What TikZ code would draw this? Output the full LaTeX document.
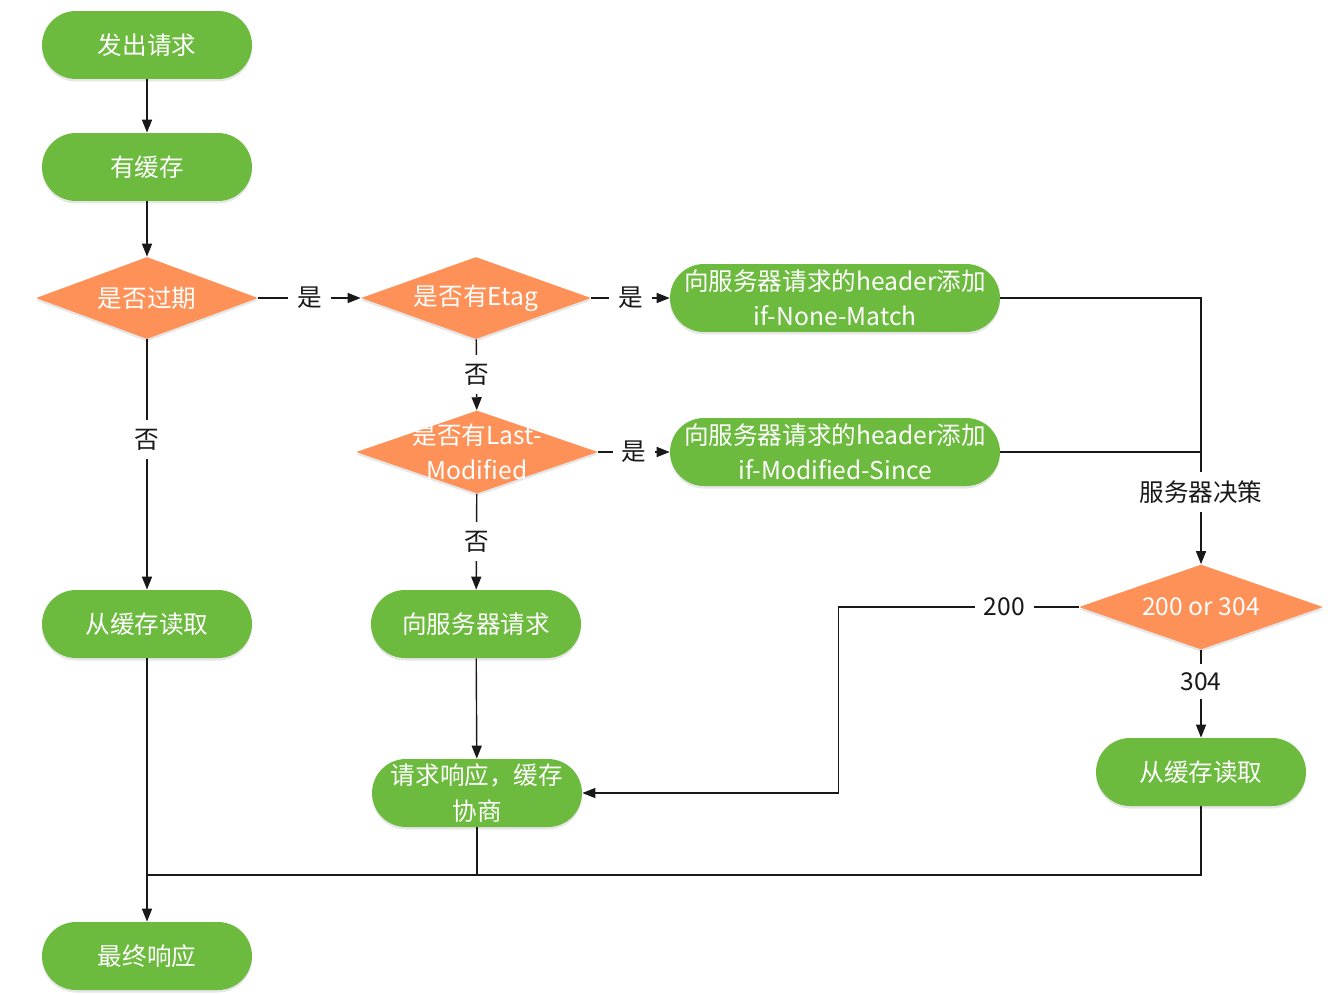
\documentclass[tikz,border=0pt]{standalone}
\usepackage{fontspec}
\setmainfont{Noto Sans CJK SC}
\usepackage{tikz}
\usetikzlibrary{shapes.geometric, arrows.meta, positioning, shadows}
\definecolor{mygreen}{RGB}{108,187,62}
\definecolor{myorange}{RGB}{253,145,87}
\definecolor{mydark}{RGB}{25,25,25}
\tikzset{
  proc/.style={rectangle, fill=mygreen, minimum width=4.2cm,
    minimum height=1.36cm, rounded corners=0.68cm, text=white,
    align=center, font=\fontsize{14pt}{20pt}\selectfont, inner sep=2pt,
    drop shadow={shadow xshift=0pt, shadow yshift=-0.05cm, opacity=0.2}},
  dtext/.style={text=white, align=center, font=\fontsize{14pt}{20pt}\selectfont},
  decision/.style={diamond, fill=myorange, inner sep=0pt,
    minimum width=4.44cm, minimum height=1.64cm,
    drop shadow={shadow xshift=0pt, shadow yshift=-0.05cm, opacity=0.2},
    label={[dtext]center:#1}},
  lbl/.style={fill=white, text=mydark, inner sep=5pt,
    font=\fontsize{14pt}{17pt}\selectfont},
  arrow/.style={-{Triangle[length=0.26cm, width=0.2cm]}, line width=0.8pt, color=mydark},
  line/.style={line width=0.8pt, color=mydark}
}

\begin{document}
\begin{tikzpicture}[x=0.02cm, y=-0.02cm]
  \useasboundingbox (0,0) rectangle (1328,994);

  % Left column
  \node[proc] (send) at (147,45) {发出请求};
  \node[proc] (cache) at (147,167) {有缓存};
  \node[decision={是否过期}] (expired) at (147,298) {};
  \node[proc] (readA) at (147,624) {从缓存读取};
  \node[proc] (final) at (147,956) {最终响应};

  % Middle column
  \node[decision={是否有Etag}, minimum width=4.6cm] (etag) at (476,298) {};
  \node[decision={是否有Last-\\Modified}, minimum width=4.84cm, minimum height=1.66cm] (lastmod) at (477,452) {};
  \node[proc] (server) at (476,624) {向服务器请求};
  \node[proc] (negotiate) at (477,793) {请求响应，缓存\\协商};

  % Header blocks
  \node[proc, minimum width=6.6cm] (nonematch) at (835,298) {向服务器请求的header添加\\if-None-Match};
  \node[proc, minimum width=6.6cm] (modsince) at (835,452) {向服务器请求的header添加\\if-Modified-Since};

  % Server side
  \node[decision={200 or 304}, minimum width=4.88cm, minimum height=1.7cm] (decide) at (1201,607) {};
  \node[proc] (readB) at (1201,772) {从缓存读取};

  % Main flow
  \draw[arrow] (send) -- (cache);
  \draw[arrow] (cache) -- (expired);
  \draw[arrow] (expired) -- node[lbl]{是} (etag);
  \draw[arrow] (expired) -- node[lbl, pos=0.4]{否} (readA);
  \draw[arrow] (etag) -- node[lbl]{是} (nonematch);
  \draw[arrow] (etag) -- node[lbl]{否} (lastmod);
  \draw[arrow] (lastmod) -- node[lbl]{是} (modsince);
  \draw[arrow] (lastmod) -- node[lbl]{否} (server);
  \draw[arrow] (server) -- (negotiate);

  % Server decision
  \draw[arrow] (nonematch.east) -| node[lbl, pos=0.865]{服务器决策} (decide.north);
  \draw[line] (modsince.east) -- (modsince.east -| decide.north);
  \draw[arrow] (decide.west) -- node[lbl, pos=0.31]{200} ++(-240,0) |- (negotiate.east);
  \draw[arrow] (decide) -- node[lbl, pos=0.36]{304} (readB);

  % Final response
  \coordinate (merge) at (147,875);
  \draw[arrow] (readA) -- (final);
  \draw[line] (negotiate.south) |- (merge);
  \draw[line] (readB.south) |- (merge);
\end{tikzpicture}
\end{document}
